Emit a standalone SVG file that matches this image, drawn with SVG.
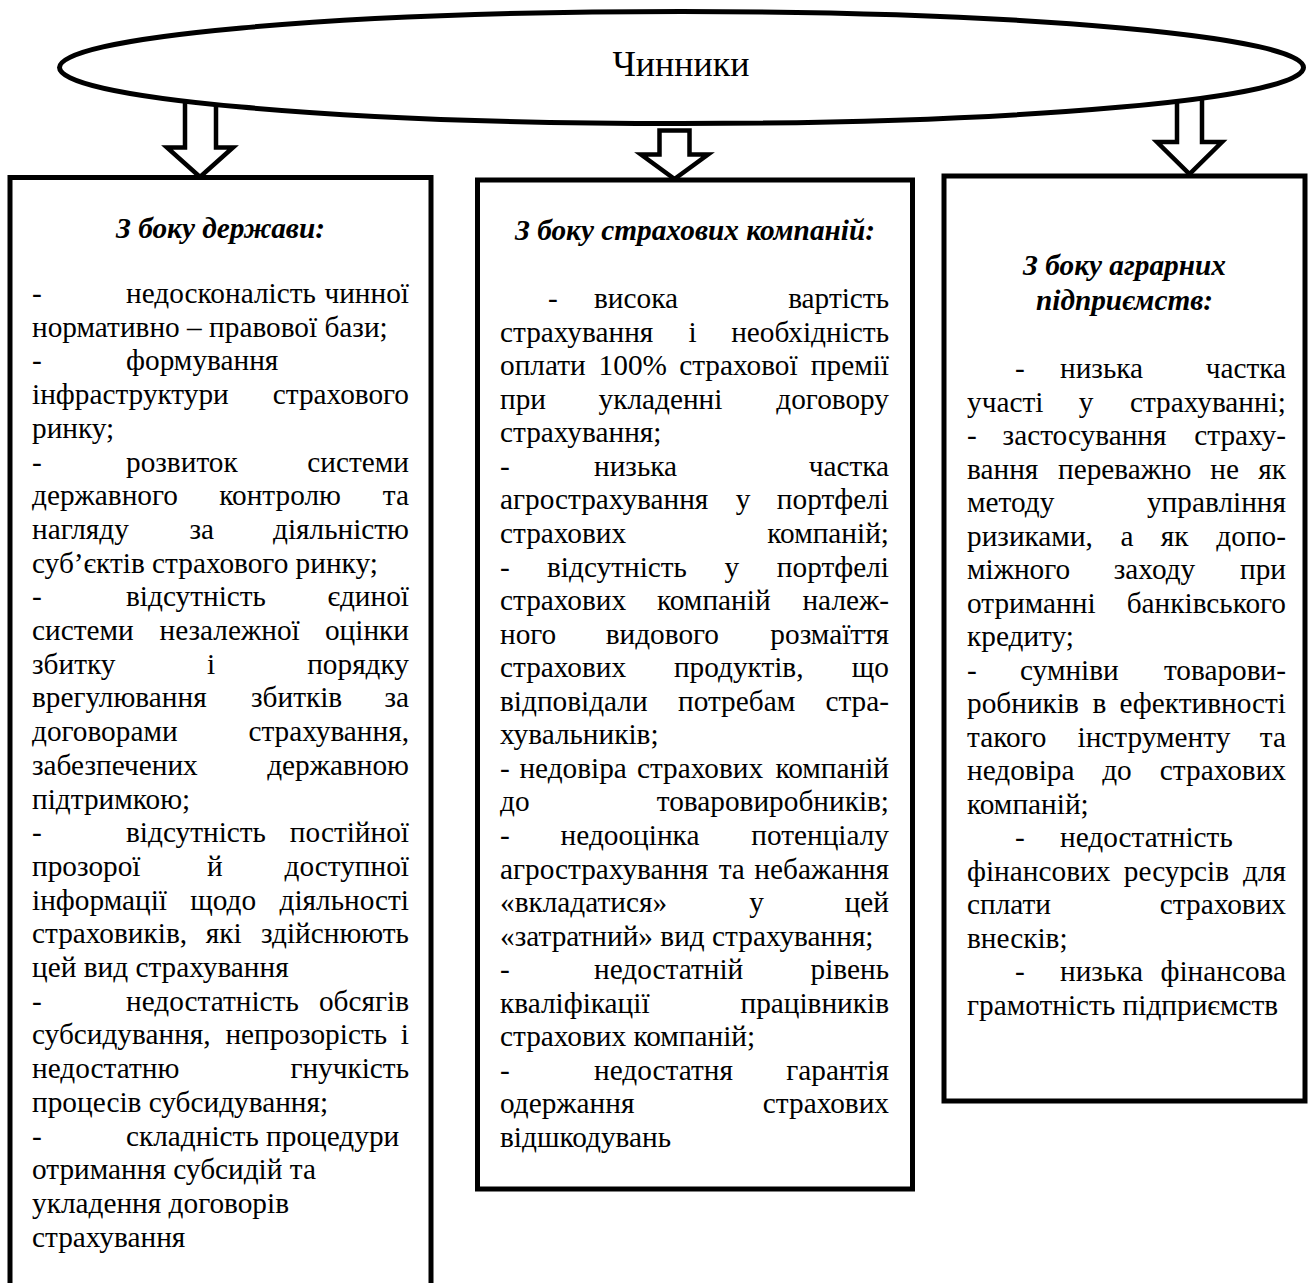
<svg xmlns="http://www.w3.org/2000/svg" width="1309" height="1283" viewBox="0 0 1309 1283">
<style>
.t{font-family:"Liberation Serif","Times New Roman",serif;font-size:29.3px;fill:#000}
.h{font-weight:bold;font-style:italic;text-anchor:middle}
.e{text-anchor:end}
.box{fill:#fff;stroke:#000;stroke-width:5}
.arr{fill:#fff;stroke:#000;stroke-width:4.5;stroke-linejoin:miter}
</style>
<rect width="1309" height="1283" fill="#fff"/>
<g id="connectors">
<polygon class="arr" points="185,90 216,90 216,147.5 233,147.5 200,177 167,147.5 185,147.5"/>
<polygon class="arr" points="659.5,130.5 689.5,130.5 689.5,154.5 708,154.5 674.5,179 641,154.5 659.5,154.5"/>
<polygon class="arr" points="1177,90 1202,90 1202,142 1222,142 1189.5,174 1157,142 1177,142"/>
</g>
<g id="chynnyky">
<ellipse cx="681.5" cy="67.5" rx="622" ry="56" fill="#fff" stroke="#000" stroke-width="5"/>
<text class="t" x="681" y="76" text-anchor="middle" style="font-size:36px">Чинники</text>
</g>
<g id="state">
<rect class="box" x="10" y="177.5" width="421" height="1130"/>
<text class="t h" x="220.5" y="238">З боку держави:</text>
<text class="t" y="303"><tspan x="32">-</tspan><tspan x="126">недосконалість</tspan><tspan class="e" x="409">чинної</tspan></text>
<text class="t" y="336.7" x="32">нормативно – правової бази;</text>
<text class="t" y="370.4"><tspan x="32">-</tspan><tspan x="126">формування</tspan></text>
<text class="t" y="404.1"><tspan x="32">інфраструктури</tspan><tspan class="e" x="409">страхового</tspan></text>
<text class="t" y="437.8" x="32">ринку;</text>
<text class="t" y="471.5"><tspan x="32">-</tspan><tspan x="126">розвиток</tspan><tspan class="e" x="409">системи</tspan></text>
<text class="t" y="505.2"><tspan x="32">державного</tspan><tspan x="219.3">контролю</tspan><tspan class="e" x="409">та</tspan></text>
<text class="t" y="538.9"><tspan x="32">нагляду</tspan><tspan x="189.4">за</tspan><tspan class="e" x="409">діяльністю</tspan></text>
<text class="t" y="572.6" x="32">суб’єктів страхового ринку;</text>
<text class="t" y="606.3"><tspan x="32">-</tspan><tspan x="126">відсутність</tspan><tspan class="e" x="409">єдиної</tspan></text>
<text class="t" y="640"><tspan x="32">системи</tspan><tspan x="159.5">незалежної</tspan><tspan class="e" x="409">оцінки</tspan></text>
<text class="t" y="673.7"><tspan x="32">збитку</tspan><tspan x="207">і</tspan><tspan class="e" x="409">порядку</tspan></text>
<text class="t" y="707.4"><tspan x="32">врегулювання</tspan><tspan x="251">збитків</tspan><tspan class="e" x="409">за</tspan></text>
<text class="t" y="741.1"><tspan x="32">договорами</tspan><tspan class="e" x="409">страхування,</tspan></text>
<text class="t" y="774.8"><tspan x="32">забезпечених</tspan><tspan class="e" x="409">державною</tspan></text>
<text class="t" y="808.5" x="32">підтримкою;</text>
<text class="t" y="842.2"><tspan x="32">-</tspan><tspan x="126">відсутність</tspan><tspan class="e" x="409">постійної</tspan></text>
<text class="t" y="875.9"><tspan x="32">прозорої</tspan><tspan x="207">й</tspan><tspan class="e" x="409">доступної</tspan></text>
<text class="t" y="909.6"><tspan x="32">інформації</tspan><tspan x="190.2">щодо</tspan><tspan class="e" x="409">діяльності</tspan></text>
<text class="t" y="943.3"><tspan x="32">страховиків,</tspan><tspan x="205.7">які</tspan><tspan class="e" x="409">здійснюють</tspan></text>
<text class="t" y="977" x="32">цей вид страхування</text>
<text class="t" y="1010.7"><tspan x="32">-</tspan><tspan x="126">недостатність</tspan><tspan class="e" x="409">обсягів</tspan></text>
<text class="t" y="1044.4"><tspan x="32">субсидування,</tspan><tspan x="225.4">непрозорість</tspan><tspan class="e" x="409">і</tspan></text>
<text class="t" y="1078.1"><tspan x="32">недостатню</tspan><tspan class="e" x="409">гнучкість</tspan></text>
<text class="t" y="1111.8" x="32">процесів субсидування;</text>
<text class="t" y="1145.5"><tspan x="32">-</tspan><tspan x="126">складність процедури</tspan></text>
<text class="t" y="1179.2" x="32">отримання субсидій та</text>
<text class="t" y="1212.9" x="32">укладення договорів</text>
<text class="t" y="1246.6" x="32">страхування</text>
</g>
<g id="insurers">
<rect class="box" x="477.5" y="180" width="435" height="1009"/>
<text class="t h" x="695" y="240">З боку страхових компаній:</text>
<text class="t" y="308"><tspan x="548">-</tspan><tspan x="594">висока</tspan><tspan class="e" x="889">вартість</tspan></text>
<text class="t" y="341.6"><tspan x="500">страхування</tspan><tspan x="688.6">і</tspan><tspan class="e" x="889">необхідність</tspan></text>
<text class="t" y="375.1"><tspan x="500">оплати</tspan><tspan x="598.6">100%</tspan><tspan x="679.2">страхової</tspan><tspan class="e" x="889">премії</tspan></text>
<text class="t" y="408.7"><tspan x="500">при</tspan><tspan x="598.5">укладенні</tspan><tspan class="e" x="889">договору</tspan></text>
<text class="t" y="442.2" x="500">страхування;</text>
<text class="t" y="475.8"><tspan x="500">-</tspan><tspan x="594">низька</tspan><tspan class="e" x="889">частка</tspan></text>
<text class="t" y="509.4"><tspan x="500">агрострахування</tspan><tspan x="735.7">у</tspan><tspan class="e" x="889">портфелі</tspan></text>
<text class="t" y="542.9"><tspan x="500">страхових</tspan><tspan class="e" x="889">компаній;</tspan></text>
<text class="t" y="576.5"><tspan x="500">-</tspan><tspan x="547">відсутність</tspan><tspan x="724.6">у</tspan><tspan class="e" x="889">портфелі</tspan></text>
<text class="t" y="610"><tspan x="500">страхових</tspan><tspan x="657">компаній</tspan><tspan class="e" x="889">належ-</tspan></text>
<text class="t" y="643.6"><tspan x="500">ного</tspan><tspan x="605.7">видового</tspan><tspan class="e" x="889">розмаїття</tspan></text>
<text class="t" y="677.2"><tspan x="500">страхових</tspan><tspan x="673.9">продуктів,</tspan><tspan class="e" x="889">що</tspan></text>
<text class="t" y="710.7"><tspan x="500">відповідали</tspan><tspan x="678">потребам</tspan><tspan class="e" x="889">стра-</tspan></text>
<text class="t" y="744.3" x="500">хувальників;</text>
<text class="t" y="777.8"><tspan x="500">-</tspan><tspan x="519.4">недовіра</tspan><tspan x="636.9">страхових</tspan><tspan class="e" x="889">компаній</tspan></text>
<text class="t" y="811.4"><tspan x="500">до</tspan><tspan class="e" x="889">товаровиробників;</tspan></text>
<text class="t" y="845"><tspan x="500">-</tspan><tspan x="560.6">недооцінка</tspan><tspan class="e" x="889">потенціалу</tspan></text>
<text class="t" y="878.5"><tspan x="500">агрострахування</tspan><tspan x="718.7">та</tspan><tspan class="e" x="889">небажання</tspan></text>
<text class="t" y="912.1"><tspan x="500">«вкладатися»</tspan><tspan x="749.3">у</tspan><tspan class="e" x="889">цей</tspan></text>
<text class="t" y="945.6" x="500">«затратний» вид страхування;</text>
<text class="t" y="979.2"><tspan x="500">-</tspan><tspan x="594">недостатній</tspan><tspan class="e" x="889">рівень</tspan></text>
<text class="t" y="1012.8"><tspan x="500">кваліфікації</tspan><tspan class="e" x="889">працівників</tspan></text>
<text class="t" y="1046.3" x="500">страхових компаній;</text>
<text class="t" y="1079.9"><tspan x="500">-</tspan><tspan x="594">недостатня</tspan><tspan class="e" x="889">гарантія</tspan></text>
<text class="t" y="1113.4"><tspan x="500">одержання</tspan><tspan class="e" x="889">страхових</tspan></text>
<text class="t" y="1147" x="500">відшкодувань</text>
</g>
<g id="farms">
<rect class="box" x="944" y="176" width="361" height="925"/>
<text class="t h" x="1124.5" y="275">З боку аграрних</text>
<text class="t h" x="1124.5" y="310">підприємств:</text>
<text class="t" y="378"><tspan x="1015">-</tspan><tspan x="1060">низька</tspan><tspan class="e" x="1286">частка</tspan></text>
<text class="t" y="411.5"><tspan x="967">участі</tspan><tspan x="1078.7">у</tspan><tspan class="e" x="1286">страхуванні;</tspan></text>
<text class="t" y="445"><tspan x="967">-</tspan><tspan x="1002.6">застосування</tspan><tspan class="e" x="1286">страху-</tspan></text>
<text class="t" y="478.5"><tspan x="967">вання</tspan><tspan x="1058">переважно</tspan><tspan x="1210.3">не</tspan><tspan class="e" x="1286">як</tspan></text>
<text class="t" y="512"><tspan x="967">методу</tspan><tspan class="e" x="1286">управління</tspan></text>
<text class="t" y="545.5"><tspan x="967">ризиками,</tspan><tspan x="1120.6">а</tspan><tspan x="1160.8">як</tspan><tspan class="e" x="1286">допо-</tspan></text>
<text class="t" y="579"><tspan x="967">міжного</tspan><tspan x="1113.8">заходу</tspan><tspan class="e" x="1286">при</tspan></text>
<text class="t" y="612.5"><tspan x="967">отриманні</tspan><tspan class="e" x="1286">банківського</tspan></text>
<text class="t" y="646" x="967">кредиту;</text>
<text class="t" y="679.5"><tspan x="967">-</tspan><tspan x="1020">сумніви</tspan><tspan class="e" x="1286">товарови-</tspan></text>
<text class="t" y="713"><tspan x="967">робників</tspan><tspan x="1092.6">в</tspan><tspan class="e" x="1286">ефективності</tspan></text>
<text class="t" y="746.5"><tspan x="967">такого</tspan><tspan x="1077.5">інструменту</tspan><tspan class="e" x="1286">та</tspan></text>
<text class="t" y="780"><tspan x="967">недовіра</tspan><tspan x="1102.2">до</tspan><tspan class="e" x="1286">страхових</tspan></text>
<text class="t" y="813.5" x="967">компаній;</text>
<text class="t" y="847"><tspan x="1015">-</tspan><tspan x="1060">недостатність</tspan></text>
<text class="t" y="880.5"><tspan x="967">фінансових</tspan><tspan x="1123.8">ресурсів</tspan><tspan class="e" x="1286">для</tspan></text>
<text class="t" y="914"><tspan x="967">сплати</tspan><tspan class="e" x="1286">страхових</tspan></text>
<text class="t" y="947.5" x="967">внесків;</text>
<text class="t" y="981"><tspan x="1015">-</tspan><tspan x="1060">низька</tspan><tspan class="e" x="1286">фінансова</tspan></text>
<text class="t" y="1014.5" x="967">грамотність підприємств</text>
</g>
</svg>
